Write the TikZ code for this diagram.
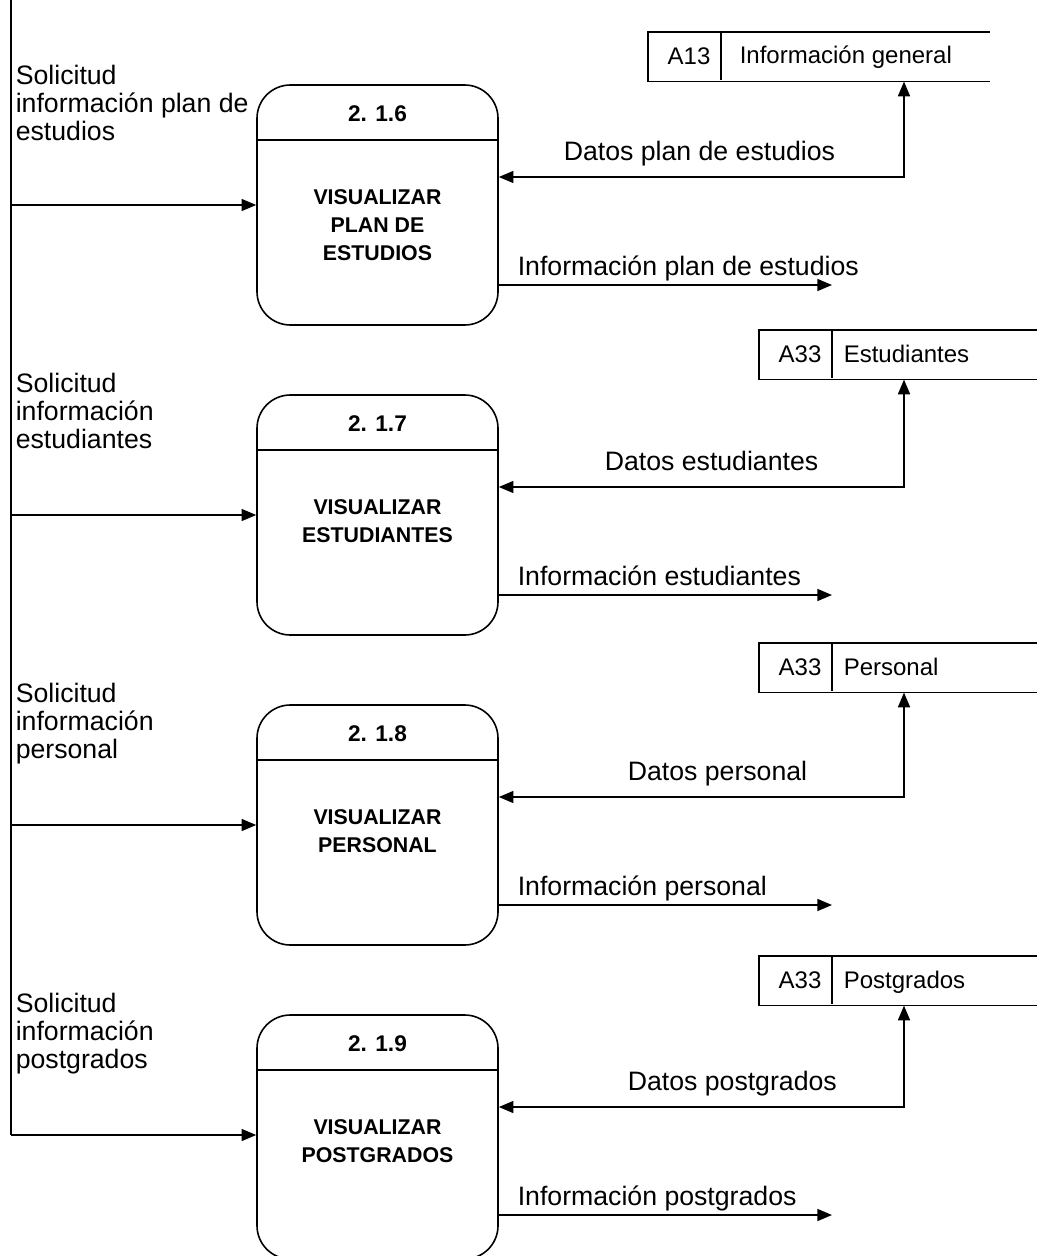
\documentclass[tikz,border=0pt]{standalone}
\usepackage{fontspec}
\setmainfont{Liberation Sans}
\usetikzlibrary{arrows.meta}
\begin{document}
\begin{tikzpicture}[x={(0.75pt,0)}, y={(0,-0.75pt)}, line width=1.2pt,
  proc/.style={draw, rounded corners=25pt, minimum width=180.75pt, minimum height=180pt, inner sep=0pt},
  flow/.style={-{Triangle[length=11pt,width=9pt]}},
  dflow/.style={{Triangle[length=11pt,width=9pt]}-{Triangle[length=11pt,width=9pt]}},
  lab/.style={font=\fontsize{20}{21}\selectfont, inner sep=0pt},
  slab/.style={font=\fontsize{18}{20}\selectfont, inner sep=0pt},
  num/.style={font=\bfseries\fontsize{17}{18}\selectfont, inner sep=0pt},
  ttl/.style={font=\bfseries\fontsize{16}{21}\selectfont, inner sep=0pt, align=center},
  storebox/.style={minimum height=36pt, inner sep=0pt, anchor=north west}]
\useasboundingbox (0,0) rectangle (1037,1256);

% trunk
\coordinate (top) at (11,0);
\coordinate (bot) at (11,1135);
\draw (top) -- (bot);

% processes
\node[proc] (p1) at (377.5,205) {};
\node[proc] (p2) at (377.5,515) {};
\node[proc] (p3) at (377.5,825) {};
\node[proc, minimum height=183pt] (p4) at (377.5,1137) {};
\foreach \p in {p1,p2,p3,p4}{
  \draw (\p.north west) ++(0,56) -- ++(241,0);
}
\node[num] (n1) at (377.5,114) {2. 1.6};
\node[num] (n2) at (377.5,424) {2. 1.7};
\node[num] (n3) at (377.5,734) {2. 1.8};
\node[num] (n4) at (377.5,1044) {2. 1.9};
\node[ttl, anchor=north] (t1) at (377.5,189) {VISUALIZAR\\PLAN DE\\ESTUDIOS};
\node[ttl, anchor=north] (t2) at (377.5,499) {VISUALIZAR\\ESTUDIANTES};
\node[ttl, anchor=north] (t3) at (377.5,809) {VISUALIZAR\\PERSONAL};
\node[ttl, anchor=north] (t4) at (377.5,1119) {VISUALIZAR\\POSTGRADOS};

% inputs
\draw[flow] (top |- p1.west) -- (p1.west);
\draw[flow] (top |- p2.west) -- (p2.west);
\draw[flow] (top |- p3.west) -- (p3.west);
\draw[flow] (bot) -- (p4.west |- bot);
\node[lab, align=left, anchor=north west] (l1) at (15,64) {Solicitud\\información plan de\\estudios};
\node[lab, align=left, anchor=north west] (l2) at (15,372) {Solicitud\\información\\estudiantes};
\node[lab, align=left, anchor=north west] (l3) at (15,682) {Solicitud\\información\\personal};
\node[lab, align=left, anchor=north west] (l4) at (15,992) {Solicitud\\información\\postgrados};

% stores
\node[storebox, minimum width=255pt] (s1) at (648,32) {};
\node[storebox, minimum width=210pt] (s2) at (759,330) {};
\node[storebox, minimum width=210pt] (s3) at (759,643) {};
\node[storebox, minimum width=210pt] (s4) at (759,956) {};
\draw (s1.north east) -- (s1.north west) -- (s1.south west) -- (s1.south east);
\draw (s1.north west) ++(73,0) -- ++(0,48);
\foreach \s in {s2,s3,s4}{
  \draw (\s.north east) -- (\s.north west) -- (\s.south west) -- (\s.south east);
  \draw (\s.north west) ++(73,0) -- ++(0,48);
}
\node[slab] (i1) at (689,56) {A13};
\node[slab, anchor=base west] (m1) at (739,64) {Información general};
\node[slab] (i2) at (800,354) {A33};
\node[slab, anchor=base west] (m2) at (843,362) {Estudiantes};
\node[slab] (i3) at (800,667) {A33};
\node[slab, anchor=base west] (m3) at (843,675) {Personal};
\node[slab] (i4) at (800,980) {A33};
\node[slab, anchor=base west] (m4) at (843,988) {Postgrados};

% data flows from stores
\coordinate (d1) at (904,177);
\coordinate (d2) at (904,487);
\coordinate (d3) at (904,797);
\coordinate (d4) at (904,1107);
\draw[dflow] (d1 |- s1.south) -- (d1) -- (p1.east |- d1);
\draw[dflow] (d2 |- s2.south) -- (d2) -- (p2.east |- d2);
\draw[dflow] (d3 |- s3.south) -- (d3) -- (p3.east |- d3);
\draw[dflow] (d4 |- s4.south) -- (d4) -- (p4.east |- d4);
\node[lab, anchor=base west] (dl1) at (563,160) {Datos plan de estudios};
\node[lab, anchor=base west] (dl2) at (604,470) {Datos estudiantes};
\node[lab, anchor=base west] (dl3) at (627,780) {Datos personal};
\node[lab, anchor=base west] (dl4) at (627,1090) {Datos postgrados};

% outputs
\coordinate (o1) at (832,285);
\coordinate (o2) at (832,595);
\coordinate (o3) at (832,905);
\coordinate (o4) at (832,1215);
\draw[flow] (p1.east |- o1) -- (o1);
\draw[flow] (p2.east |- o2) -- (o2);
\draw[flow] (p3.east |- o3) -- (o3);
\draw[flow] (p4.east |- o4) -- (o4);
\node[lab, anchor=base west] (ol1) at (517,275) {Información plan de estudios};
\node[lab, anchor=base west] (ol2) at (517,585) {Información estudiantes};
\node[lab, anchor=base west] (ol3) at (517,895) {Información personal};
\node[lab, anchor=base west] (ol4) at (517,1205) {Información postgrados};
\end{tikzpicture}
\end{document}
